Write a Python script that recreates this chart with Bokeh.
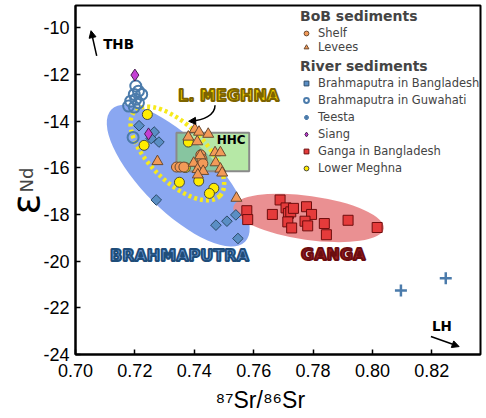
import numpy as np
from bokeh.plotting import figure
from bokeh.models import (Range1d, Legend, LegendItem, Label, Arrow, NormalHead,
                          PrintfTickFormatter, FixedTicker, Title, LinearAxis)
from bokeh.embed import file_html
from bokeh.resources import INLINE

# ---- data: 87Sr/86Sr and eNd ----
shelf_sr = [0.7340, 0.7352, 0.7365, 0.7418, 0.7422, 0.7426, 0.7429]
shelf_nd = [-15.97, -15.97, -15.97, -15.95, -15.45, -15.63, -15.82]

levee_sr = [0.7402, 0.7416, 0.7447, 0.7380, 0.7410, 0.7276, 0.7420, 0.7470, 0.7488,
            0.7398, 0.7472, 0.7411, 0.7430, 0.7488, 0.7494, 0.7412, 0.7542]
levee_nd = [-14.35, -14.47, -14.56, -14.68, -14.88, -15.73, -15.48, -15.35, -15.35,
            -15.80, -15.78, -16.07, -16.15, -16.05, -16.22, -16.30, -17.30]

brah_bd_sr = [0.7214, 0.7265, 0.7255, 0.7281, 0.7272, 0.7473, 0.7510, 0.7540, 0.7547]
brah_bd_nd = [-14.20, -14.47, -14.75, -14.90, -17.38, -18.46, -18.29, -18.02, -19.03]

guw_sr = [0.7203, 0.7212, 0.7223, 0.7198, 0.7186, 0.7203, 0.7212, 0.7179, 0.7198, 0.7194]
guw_nd = [-12.50, -12.72, -12.86, -12.86, -13.15, -13.07, -13.22, -13.36, -13.40, -14.70]

teesta_sr = [0.8096, 0.8247]
teesta_nd = [-21.26, -20.73]

siang_sr = [0.7200, 0.7246]
siang_nd = [-12.03, -14.55]

ganga_sr = [0.7577, 0.7580, 0.7663, 0.7689, 0.7709, 0.7717, 0.7725, 0.7734, 0.7715,
            0.7728, 0.7778, 0.7795, 0.7773, 0.7782, 0.7838, 0.7845, 0.7918, 0.8016]
ganga_nd = [-17.84, -18.22, -18.00, -17.38, -17.72, -17.96, -17.89, -17.74, -18.32,
            -18.58, -17.67, -18.00, -18.29, -18.49, -18.39, -18.87, -18.25, -18.56]

lm_sr = [0.7242, 0.7231, 0.7380, 0.7370, 0.7350, 0.7415, 0.7466, 0.7451]
lm_nd = [-13.72, -15.04, -14.90, -15.99, -16.62, -16.57, -16.88, -17.10]

x_ticks = [0.70, 0.72, 0.74, 0.76, 0.78, 0.80, 0.82]
y_ticks = [-24, -22, -20, -18, -16, -14, -12, -10]

# HHC field (Sr range, Nd range)
hhc_sr = [0.7340, 0.7585]
hhc_nd = [-16.15, -14.50]

p = figure(width=486, height=418, output_backend="svg", toolbar_location=None,
           x_range=Range1d(0.70, 0.8364), y_range=Range1d(-24, -9.05),
           min_border_left=73, min_border_right=6, min_border_top=5, min_border_bottom=64)
p.grid.visible = False
p.outline_line_color = "black"
p.outline_line_width = 2
p.background_fill_color = "white"

for ax in (p.xaxis[0], p.yaxis[0]):
    ax.axis_line_width = 2
    ax.major_tick_in = 5
    ax.major_tick_out = 0
    ax.minor_tick_line_color = None
    ax.major_tick_line_width = 1.5
    ax.major_label_text_font = "Liberation Sans"
    ax.major_label_text_font_size = "18px"
    ax.major_label_text_color = "black"
p.xaxis.ticker = FixedTicker(ticks=x_ticks)
p.yaxis.ticker = FixedTicker(ticks=y_ticks)
p.xaxis.formatter = PrintfTickFormatter(format="%.2f")
p.yaxis.formatter = PrintfTickFormatter(format="%d")
p.xaxis.major_label_standoff = 9
p.yaxis.major_label_standoff = 6

# y-axis title: "Nd" on the main axis, a large epsilon on a bare outer axis
p.yaxis.axis_label = "Nd"
p.yaxis.axis_label_text_font = "DejaVu Sans"
p.yaxis.axis_label_text_font_style = "normal"
p.yaxis.axis_label_text_font_size = "18px"
p.yaxis.axis_label_standoff = 3

eps_axis = LinearAxis(ticker=FixedTicker(ticks=[]), axis_line_color=None,
                      major_tick_in=0, major_tick_out=0, minor_tick_in=0, minor_tick_out=0,
                      major_label_standoff=0,
                      axis_label="\u03b5\u00a0\u00a0\u00a0\u00a0",
                      axis_label_text_font="DejaVu Sans",
                      axis_label_text_font_style="normal",
                      axis_label_text_font_size="38px",
                      axis_label_text_color="black",
                      axis_label_standoff=-34)
p.add_layout(eps_axis, "left")

# x-axis title with the isotope masses as superscripts
p.add_layout(Title(text="\u2078\u2077Sr/\u2078\u2076Sr", align="left", offset=140,
                   text_font="Liberation Sans", text_font_style="normal",
                   text_font_size="23px", text_color="black", standoff=11), "below")

# source fields
p.ellipse(x=0.7346, y=-16.34, width=188, height=72, angle=-0.78,
          width_units="screen", height_units="screen",
          fill_color="#84a2f0", fill_alpha=0.95, line_color=None)
p.ellipse(x=0.7785, y=-18.15, width=152, height=44, angle=-0.14,
          width_units="screen", height_units="screen",
          fill_color="#e98a8c", fill_alpha=0.95, line_color=None)
p.quad(left=hhc_sr[0], right=hhc_sr[1], bottom=hhc_nd[0], top=hhc_nd[1],
       fill_color="#86d96a", fill_alpha=0.6, line_color="#8a8a8a", line_width=2)
p.ellipse(x=0.7343, y=-15.39, width=120, height=56, angle=-0.785,
          width_units="screen", height_units="screen",
          fill_alpha=0, line_color="#f7ea1c", line_width=4.5, line_dash="3 3")

# samples
r_guw = p.scatter(guw_sr, guw_nd, marker="circle", size=11, fill_alpha=0,
                  line_color="#4b7bab", line_width=2)
r_bbd = p.scatter(brah_bd_sr, brah_bd_nd, marker="square", angle=np.pi / 4, size=7.5,
                  fill_color="#5a8ec4", line_color="#2b4a68", line_width=1)
r_lm = p.scatter(lm_sr, lm_nd, marker="circle", size=10,
                 fill_color="#ffec00", line_color="#4a4a3a", line_width=1)
r_ganga = p.scatter(ganga_sr, ganga_nd, marker="square", size=10,
                    fill_color="#e53b3b", line_color="#6e0d0d", line_width=1)
r_tee = p.scatter(teesta_sr, teesta_nd, marker="cross", size=12,
                  line_color="#4b7bab", line_width=2.5)
r_siang = p.scatter(siang_sr, siang_nd, marker="diamond", size=12,
                    fill_color="#c43fd4", line_color="#4a2050", line_width=1)
r_shelf = p.scatter(shelf_sr, shelf_nd, marker="circle", size=10,
                    fill_color="#f39a58", line_color="#6b4a30", line_width=1)
r_lev = p.scatter(levee_sr, levee_nd, marker="triangle", size=11,
                  fill_color="#f39a58", line_color="#6b4a30", line_width=1)

# field labels
def field_label(x, y, text, size, fill, outline):
    p.add_layout(Label(x=x, y=y, text=text, text_align="center", text_baseline="middle",
                       text_font="DejaVu Sans", text_font_style="bold",
                       text_font_size=size, text_color=fill,
                       text_outline_color=outline))

field_label(0.7350, -19.74, "BRAHMAPUTRA", "16px", "#6a9ad6", "#1f4d7a")
field_label(0.7868, -19.72, "GANGA", "16px", "#9b1b1f", "#6a0d10")
field_label(0.7516, -12.89, "L. MEGHNA", "16px", "#f4d400", "#7d6400")
p.add_layout(Label(x=0.7524, y=-14.83, text="HHC", text_align="center",
                   text_baseline="middle", text_font="DejaVu Sans",
                   text_font_style="bold", text_font_size="12px", text_color="black"))
p.add_layout(Label(x=0.7145, y=-10.69, text="THB", text_align="center",
                   text_baseline="middle", text_font="DejaVu Sans",
                   text_font_style="bold", text_font_size="13.5px", text_color="black"))
p.add_layout(Label(x=0.8234, y=-22.80, text="LH", text_align="center",
                   text_baseline="middle", text_font="DejaVu Sans",
                   text_font_style="bold", text_font_size="13.5px", text_color="black"))

# arrows
p.add_layout(Arrow(end=NormalHead(size=7, fill_color="black", line_color="black"),
                   x_start=0.70714, y_start=-11.21, x_end=0.70523, y_end=-10.13,
                   line_width=1.5, line_color="black"))
p.add_layout(Arrow(end=NormalHead(size=7, fill_color="black", line_color="black"),
                   x_start=0.8197, y_start=-23.23, x_end=0.8292, y_end=-23.66,
                   line_width=1.5, line_color="black"))
p.bezier(x0=0.7470, y0=-13.32, x1=0.7390, y1=-14.00, cx0=0.7470, cy0=-13.75,
         cx1=0.7430, cy1=-13.97, line_color="black", line_width=1.5)
p.add_layout(Arrow(end=NormalHead(size=7, fill_color="black", line_color="black"),
                   x_start=0.7400, y_start=-13.995, x_end=0.7381, y_end=-14.01,
                   line_width=1.5, line_color="black"))

# legends
common = dict(border_line_alpha=0, background_fill_alpha=0, padding=0, margin=0,
              label_text_font="DejaVu Sans", label_text_font_size="11.5px",
              title_text_font="DejaVu Sans", title_text_font_style="bold",
              title_text_font_size="14px", glyph_width=12, label_standoff=6,
              title_standoff=2)
leg1 = Legend(items=[LegendItem(label="Shelf", renderers=[r_shelf]),
                     LegendItem(label="Levees", renderers=[r_lev])],
              title="BoB sediments", location=(225, 300),
              glyph_height=14, label_height=14, spacing=0, **common)
leg2 = Legend(items=[LegendItem(label="Brahmaputra in Bangladesh", renderers=[r_bbd]),
                     LegendItem(label="Brahmaputra in Guwahati", renderers=[r_guw]),
                     LegendItem(label="Teesta", renderers=[r_tee]),
                     LegendItem(label="Siang", renderers=[r_siang]),
                     LegendItem(label="Ganga in Bangladesh", renderers=[r_ganga]),
                     LegendItem(label="Lower Meghna", renderers=[r_lm])],
              title="River sediments", location=(225, 179),
              glyph_height=14, label_height=14, spacing=3, **common)
p.add_layout(leg1)
p.add_layout(leg2)

open("out.html", "w").write(file_html(p, INLINE))
